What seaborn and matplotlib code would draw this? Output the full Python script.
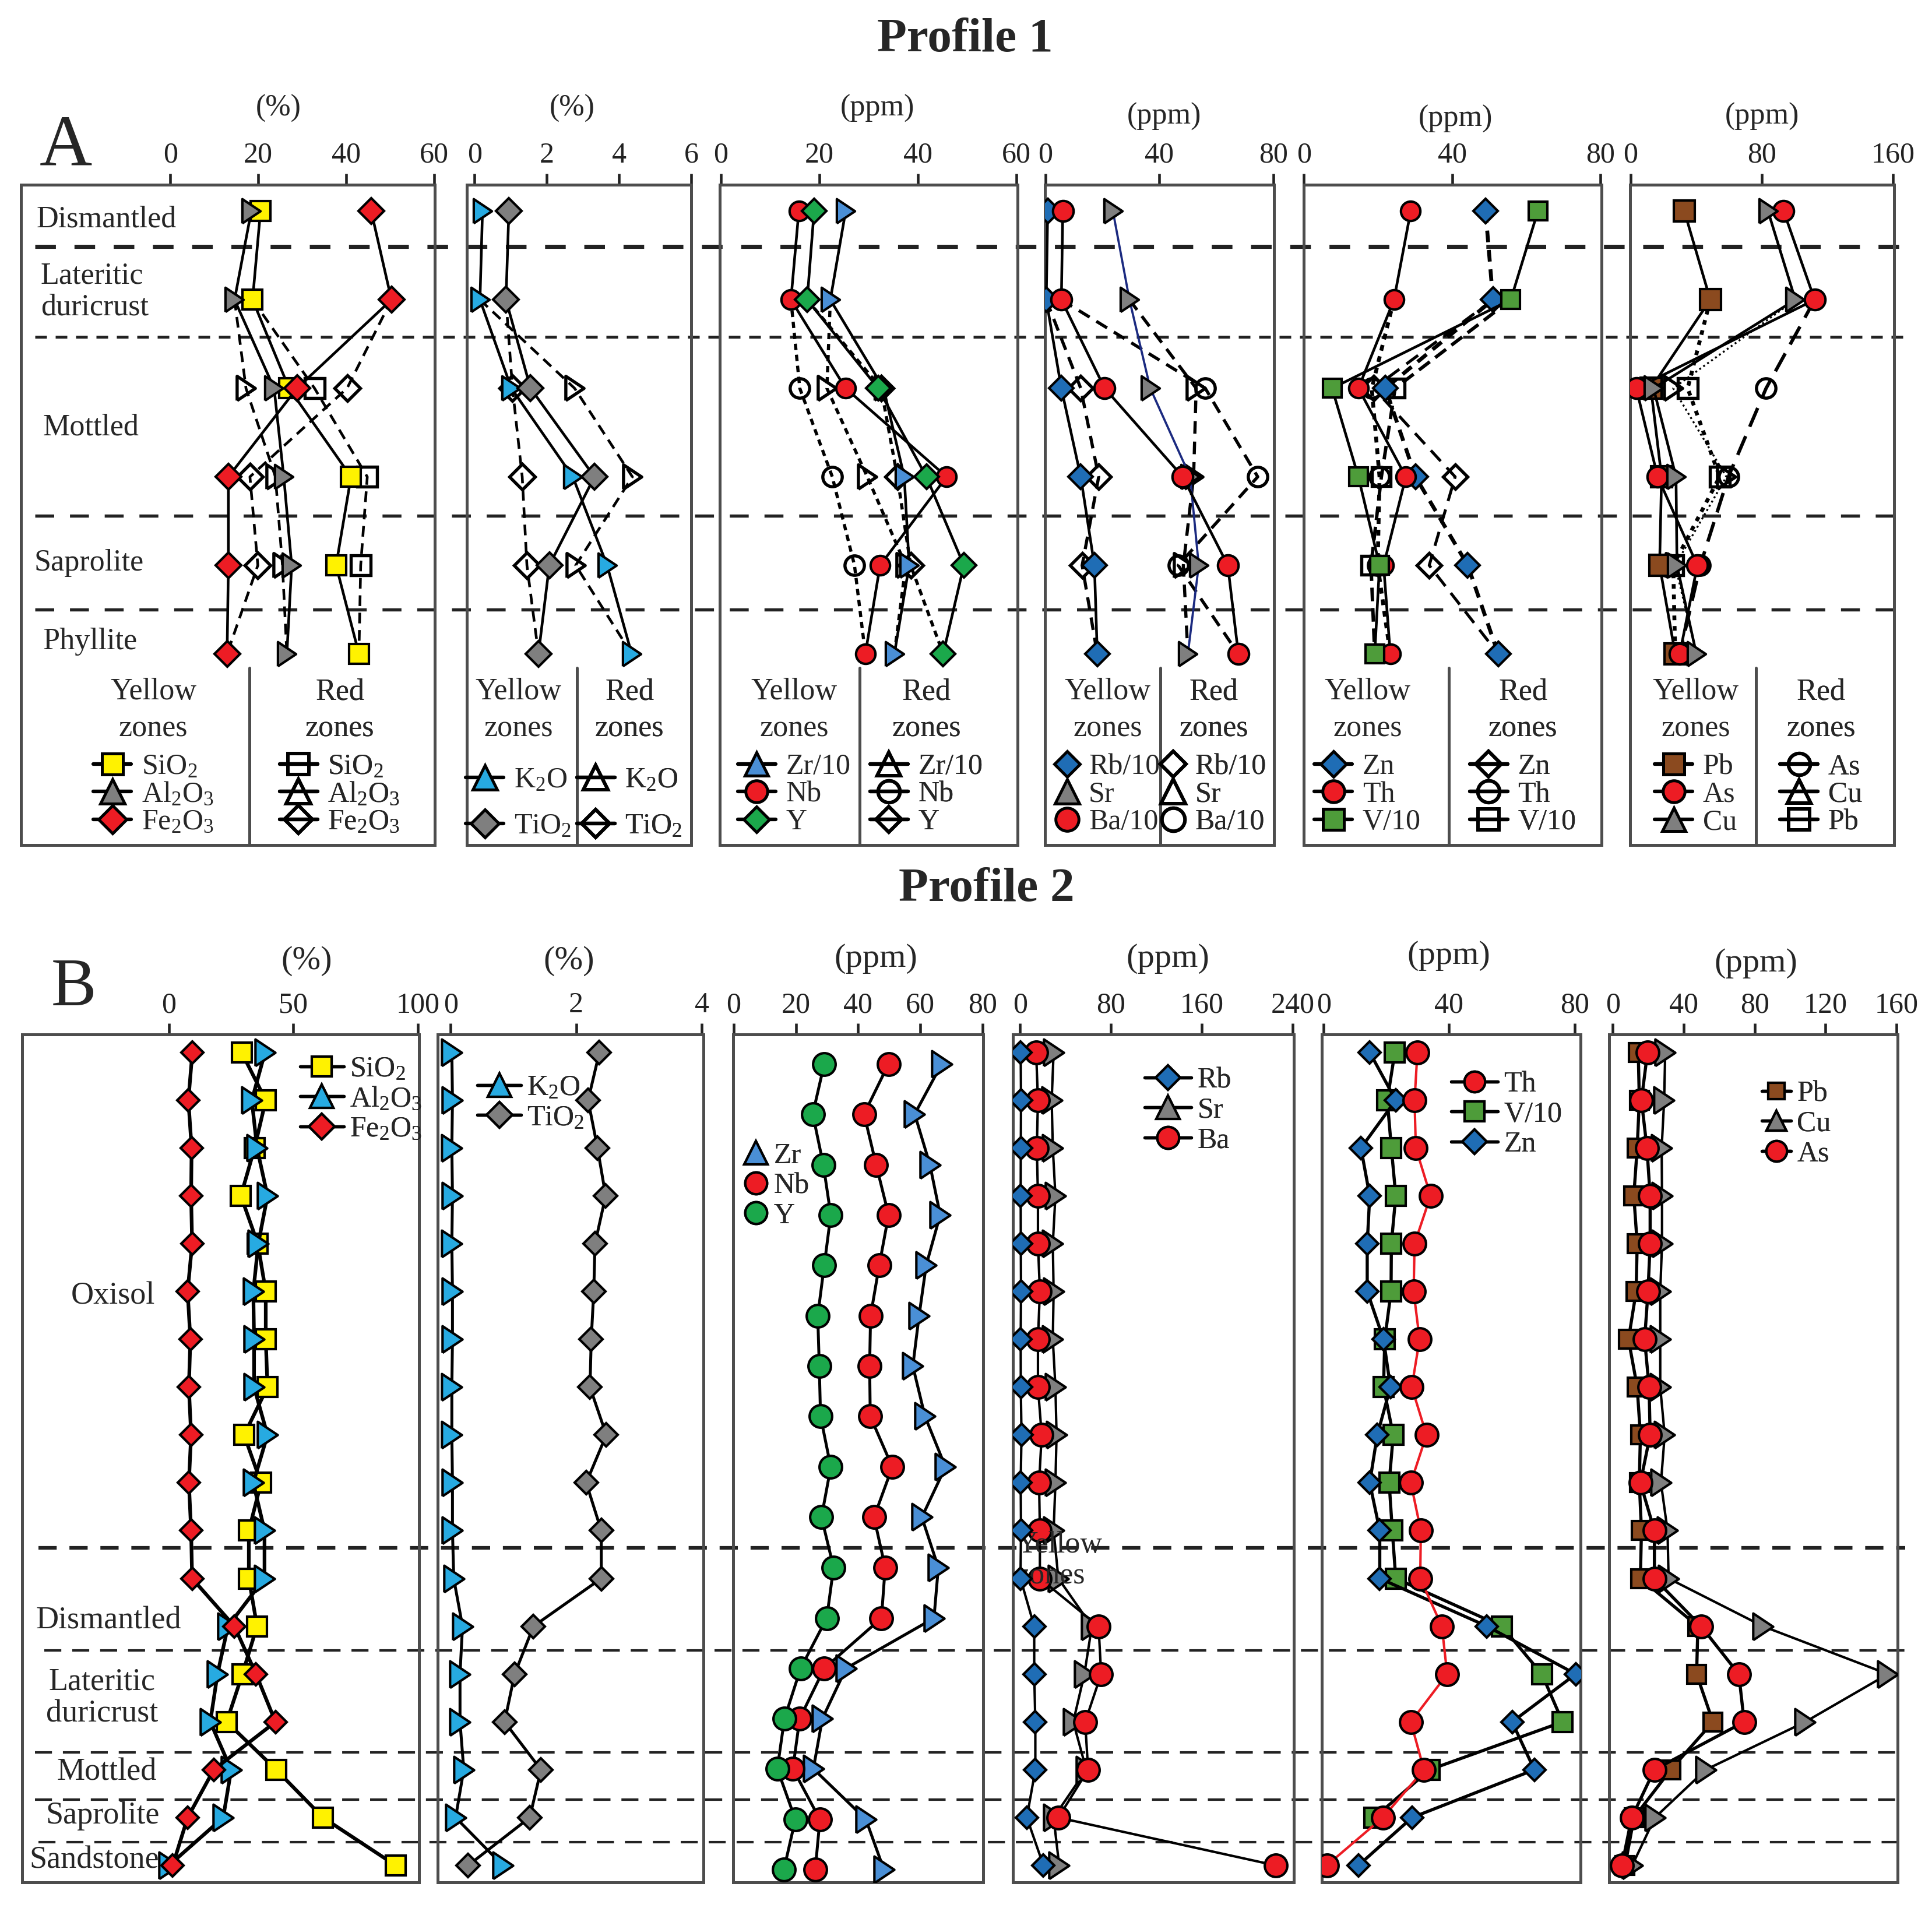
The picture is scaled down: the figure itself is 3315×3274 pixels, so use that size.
import numpy as np
import pandas as pd
import matplotlib
matplotlib.use("Agg")
import matplotlib.pyplot as plt
from matplotlib.lines import Line2D
import seaborn as sns

sns.set_theme(style="white")
plt.rcParams["font.family"] = ["Liberation Serif", "DejaVu Serif"]
plt.rcParams["mathtext.fontset"] = "custom"
plt.rcParams["mathtext.rm"] = "Liberation Serif"
plt.rcParams["mathtext.it"] = "Liberation Serif:italic"
plt.rcParams["mathtext.bf"] = "Liberation Serif:bold"

# ------------------------------------------------------------------ DATA
# Profile 1 : rows = Dismantled, Lateritic duricrust, Mottled (upper), Mottled (lower), Saprolite, Phyllite
p1_zones = ["Dismantled", "Lateritic\nduricrust", "Mottled", "Saprolite", "Phyllite"]
p1_rows = [0, 1, 2, 3, 4, 5]
p1_red_rows = [2, 3, 4]
# yellow zones (all rows) / red zones (rows 2-4)
p1_y_sio2 = [20.5, 18.7, 27.0, 41.1, 37.7, 42.9]
p1_y_al2o3 = [18.4, 14.6, 23.6, 25.8, 27.6, 26.5]
p1_y_fe2o3 = [45.7, 50.3, 28.8, 13.2, 13.2, 12.9]
p1_r_sio2 = [32.8, 44.8, 43.3]
p1_r_al2o3 = [17.2, 23.9, 25.5]
p1_r_fe2o3 = [40.2, 18.1, 19.9]

p1_y_k2o = [0.22, 0.15, 1.02, 2.72, 3.67, 4.35]
p1_y_tio2 = [0.95, 0.87, 1.55, 3.32, 2.07, 1.77]
p1_r_k2o = [2.77, 4.37, 2.80]
p1_r_tio2 = [1.05, 1.32, 1.45]

p1_y_zr = [25.3, 22.2, 33.0, 37.2, 38.2, 35.2]
p1_y_nb = [15.8, 14.2, 25.3, 45.8, 32.3, 29.3]
p1_y_y = [18.9, 17.5, 31.9, 41.7, 49.3, 45.1]
p1_r_zr = [21.5, 29.7, 37.5]
p1_r_nb = [16.0, 22.6, 27.1]
p1_r_y = [32.5, 35.8, 38.5]

p1_y_rb = [0.8, 0.3, 5.6, 12.4, 17.2, 18.2]
p1_y_sr = [23.7, 29.5, 36.8, 50.8, 53.8, 50.0]
p1_y_ba = [6.1, 5.6, 20.8, 48.2, 64.0, 67.7]
p1_r_rb = [12.4, 18.7, 12.9]
p1_r_sr = [52.9, 52.0, 48.4]
p1_r_ba = [56.1, 74.5, 46.6]

p1_y_zn = [49.0, 51.0, 22.0, 30.1, 44.2, 52.4]
p1_y_th = [28.8, 24.3, 14.7, 27.5, 21.5, 23.3]
p1_y_v = [63.1, 55.8, 7.6, 14.7, 20.4, 19.1]
p1_r_zn = [18.8, 40.8, 33.8]
p1_r_th = [18.3, 20.4, 19.9]
p1_r_v = [24.6, 20.9, 18.1]

p1_y_pb = [32.8, 48.6, 12.4, 18.9, 17.7, 27.2]
p1_y_as = [93.3, 112.2, 3.5, 16.5, 40.7, 30.0]
p1_y_cu = [83.8, 100.4, 14.0, 27.7, 28.3, 40.1]
p1_r_as = [82.6, 59.6, 42.5]
p1_r_cu = [26.0, 58.4, 27.2]
p1_r_pb = [34.8, 54.3, 26.0]

# Profile 2 : 18 samples (Oxisol 0-10, Dismantled 11-12, Lateritic duricrust 13-14, Mottled 15, Saprolite 16, Sandstone 17)
p2_zones = ["Oxisol", "Dismantled", "Lateritic\nduricrust", "Mottled", "Saprolite", "Sandstone"]
p2_rows = list(range(18))
p2_sio2 = [29.2, 38.9, 34.4, 28.9, 35.7, 38.9, 38.9, 39.6, 30.2, 37.0, 32.1, 32.1, 35.4, 29.5, 23.2, 43.1, 61.9, 91.1]
p2_al2o3 = [38.6, 33.3, 35.4, 39.6, 35.9, 33.9, 34.2, 34.2, 39.6, 33.9, 38.4, 38.4, 23.7, 19.5, 16.6, 25.0, 21.8, 0.0]
p2_fe2o3 = [9.4, 7.8, 9.1, 8.9, 9.3, 7.5, 8.6, 8.0, 8.9, 8.0, 8.9, 9.3, 26.3, 35.0, 42.8, 18.0, 7.5, 1.5]
p2_k2o = [0.02, 0.03, 0.02, 0.03, 0.02, 0.03, 0.03, 0.02, 0.02, 0.03, 0.03, 0.05, 0.19, 0.15, 0.15, 0.21, 0.08, 0.83]
p2_tio2 = [2.37, 2.19, 2.34, 2.47, 2.30, 2.28, 2.24, 2.22, 2.48, 2.16, 2.40, 2.40, 1.32, 1.02, 0.86, 1.44, 1.26, 0.28]
# Zr / Nb / Y : 17 samples at their own depths
p2_rows_zr = [0.24, 1.29, 2.35, 3.40, 4.45, 5.51, 6.56, 7.61, 8.67, 9.72, 10.77, 11.83, 12.88, 13.93, 14.98, 16.04, 17.09]
p2_zr = [66.9, 58.2, 63.1, 66.4, 61.9, 59.6, 57.6, 61.5, 68.1, 60.5, 65.8, 64.4, 36.1, 28.5, 25.6, 42.5, 48.3]
p2_nb = [49.8, 41.9, 45.8, 49.8, 46.8, 44.0, 43.7, 43.9, 51.0, 45.1, 48.7, 47.5, 29.1, 21.2, 19.0, 27.7, 26.2]
p2_y = [29.1, 25.4, 28.8, 31.2, 29.1, 27.0, 27.5, 27.9, 31.2, 28.2, 32.1, 29.9, 21.5, 16.3, 14.0, 19.8, 16.1]
p2_rb = [0.5, 0.8, 0.6, 0.5, 0.6, 0.8, 0.5, 0.6, 1.2, 0.5, 0.8, 0.3, 12.4, 12.4, 13.4, 13.4, 5.9, 20.5]
p2_sr = [29.5, 27.8, 28.8, 31.1, 28.8, 29.5, 28.8, 31.1, 32.1, 31.1, 29.5, 33.7, 63.2, 56.6, 46.8, 58.3, 29.5, 34.4]
p2_ba = [14.1, 15.7, 14.7, 15.7, 15.7, 17.4, 15.7, 15.7, 19.0, 16.7, 17.4, 17.4, 69.1, 71.4, 57.3, 59.9, 33.7, 225.0]
p2_th = [29.9, 29.0, 29.4, 34.1, 29.0, 28.7, 30.6, 28.1, 32.8, 27.8, 31.0, 30.8, 37.7, 39.4, 27.8, 32.0, 18.9, 1.0]
p2_v = [22.7, 20.3, 21.6, 23.0, 21.6, 21.5, 19.5, 19.1, 22.2, 20.9, 21.9, 23.0, 56.8, 69.6, 76.2, 33.8, 16.2, np.nan]
p2_zn = [14.7, 23.0, 11.9, 14.7, 13.9, 13.9, 19.1, 21.3, 17.1, 14.7, 17.9, 17.9, 52.1, 80.4, 60.1, 67.2, 28.2, 11.1]
p2_pb = [14.4, 15.0, 13.8, 11.9, 13.8, 13.2, 8.9, 13.8, 15.6, 15.0, 16.2, 15.6, 48.0, 47.3, 56.5, 32.7, 12.0, 7.0]
p2_as = [19.6, 16.2, 19.3, 21.1, 21.1, 19.9, 18.0, 20.5, 21.1, 15.6, 23.5, 23.5, 49.8, 71.1, 74.1, 23.5, 10.7, 5.2]
p2_cu = [29.6, 29.0, 27.6, 27.8, 27.8, 26.8, 26.8, 26.8, 29.3, 27.2, 30.9, 31.5, 84.7, 155.1, 108.5, 52.4, 23.8, 11.0]

# ------------------------------------------------------------------ STYLE
YEL, GRY, RED = "#FFF200", "#7F7F7F", "#ED1C24"
LBLUE, ZRBLUE, DBLUE = "#27AAE1", "#4A8FD6", "#1F6DB5"
GRN_Y, GRN_V, BRN = "#1BA84B", "#4E9C3A", "#8B4A1F"
NAVY = "#1B2A80"
FRAME = "#4d4d4d"
TRI = [(-0.75, -1.0), (0.75, 0.0), (-0.75, 1.0), (-0.75, -1.0)]
TICK_FS = 12

W_PX, H_PX, DPI = 3315, 3274, 300
fig = plt.figure(figsize=(W_PX / DPI, H_PX / DPI), dpi=DPI)
fig.patch.set_facecolor("white")


def draw(ax, x, y, face, marker, ms, ls="-", lw=1.1, lc="black", mew=1.0, z=3, markevery=None):
    df = pd.DataFrame({"x": x, "y": y}).dropna()
    kw = dict(marker=marker, markersize=ms, markerfacecolor=face, markeredgecolor="black",
              markeredgewidth=mew, linestyle=ls, linewidth=lw, color=lc, zorder=z)
    if markevery is not None:
        kw["markevery"] = markevery
    sns.lineplot(data=df, x="x", y="y", orient="y", sort=True, estimator=None, ax=ax, **kw)


def setup(ax, xlim, ticks, ylim, fs):
    ax.set_xlim(*xlim)
    ax.set_ylim(*ylim)
    ax.set_xticks(ticks)
    ax.set_xticklabels([str(t) for t in ticks])
    ax.xaxis.tick_top()
    ax.tick_params(axis="x", top=True, bottom=False, labeltop=True, labelbottom=False,
                   direction="out", length=4.5, width=1.1, pad=2.0, labelsize=fs,
                   colors="#222222")
    ax.set_yticks([])
    ax.set_xlabel("")
    ax.set_ylabel("")
    ax.grid(False)
    for s in ax.spines.values():
        s.set_visible(True)
        s.set_color(FRAME)
        s.set_linewidth(1.2)
    ax.set_facecolor("none")


# ------------------------------------------------------------------ PROFILE 1
P1_B, P1_H = 0.5571, 0.3461
P1_AX = [(0.01084, 0.2143), (0.2417, 0.1161), (0.3724, 0.1543),
         (0.5408, 0.1186), (0.6747, 0.1543), (0.8438, 0.1365)]
P1_XLIM = [(-34, 60.2), (-0.21, 6.0), (-0.3, 60.2), (-0.2, 80.2), (-0.1, 80.3), (-0.2, 160.5)]
P1_TICKS = [[0, 20, 40, 60], [0, 2, 4, 6], [0, 20, 40, 60], [0, 40, 80], [0, 40, 80], [0, 80, 160]]
P1_YLIM = (7.16, -0.30)
P1_UNITS = ["(%)", "(%)", "(ppm)", "(ppm)", "(ppm)", "(ppm)"]
P1_UNIT_POS = [(0.622, 1.116), (0.47, 1.116), (0.53, 1.116), (0.52, 1.103), (0.51, 1.10), (0.50, 1.103)]
P1_SEP = [0.552, 0.49, 0.47, 0.505, 0.488, 0.477]
P1_LEG_X = [(0.32, 0.77), (0.23, 0.725), (0.25, 0.694), (0.274, 0.737), (0.215, 0.736), (0.248, 0.724)]

bg1 = fig.add_axes([0, P1_B, 1, P1_H], zorder=0)
bg1.set_xlim(0, 1)
bg1.set_ylim(*P1_YLIM)
bg1.axis("off")
bg1.axhline(0.40, 0.018, 0.985, color="#222222", lw=1.7, ls=(0, (5, 4.5)))
bg1.axhline(1.42, 0.018, 0.985, color="#222222", lw=1.2, ls=(0, (4, 3)))
bg1.axhline(3.44, 0.018, 0.985, color="#222222", lw=1.3, ls=(0, (6, 5)))
bg1.axhline(4.50, 0.018, 0.985, color="#222222", lw=1.3, ls=(0, (6, 5)))

p1_axes = []
for i in range(6):
    l, w = P1_AX[i]
    ax = fig.add_axes([l, P1_B, w, P1_H], zorder=1)
    p1_axes.append(ax)

DASH = (0, (4, 2.5))
SDASH = (0, (2, 1.5))


def p1_red(ax, yel, red, marker, ms, ls=DASH, lw=1.1, lc="black"):
    xs = [yel[1]] + list(red) + [yel[5]]
    ys = [p1_rows[1]] + p1_red_rows + [p1_rows[5]]
    draw(ax, xs, ys, "none", marker, ms, ls=ls, lw=lw, lc=lc, markevery=[1, 2, 3], z=2.5, mew=1.3)


def p1_yel(ax, vals, face, marker, ms, ls="-", lw=1.1, lc="black"):
    draw(ax, vals, p1_rows, face, marker, ms, ls=ls, lw=lw, lc=lc, z=3)


# panel 1
ax = p1_axes[0]
p1_red(ax, p1_y_sio2, p1_r_sio2, "s", 8)
p1_red(ax, p1_y_al2o3, p1_r_al2o3, TRI, 10)
p1_red(ax, p1_y_fe2o3, p1_r_fe2o3, "D", 7.3)
p1_yel(ax, p1_y_sio2, YEL, "s", 8)
p1_yel(ax, p1_y_al2o3, GRY, TRI, 10)
p1_yel(ax, p1_y_fe2o3, RED, "D", 7.3)
# panel 2
ax = p1_axes[1]
p1_red(ax, p1_y_k2o, p1_r_k2o, TRI, 10)
p1_red(ax, p1_y_tio2, p1_r_tio2, "D", 7.3)
p1_yel(ax, p1_y_k2o, LBLUE, TRI, 10)
p1_yel(ax, p1_y_tio2, GRY, "D", 7.3)
# panel 3
ax = p1_axes[2]
p1_red(ax, p1_y_zr, p1_r_zr, TRI, 10, ls=SDASH, lw=1.3)
p1_red(ax, p1_y_nb, p1_r_nb, "o", 8, ls=SDASH, lw=1.3)
p1_red(ax, p1_y_y, p1_r_y, "D", 7.0, ls=SDASH, lw=1.3)
p1_yel(ax, p1_y_zr, ZRBLUE, TRI, 10)
p1_yel(ax, p1_y_nb, RED, "o", 8)
p1_yel(ax, p1_y_y, GRN_Y, "D", 7.0)
# panel 4
ax = p1_axes[3]
p1_red(ax, p1_y_rb, p1_r_rb, "D", 7.0, ls=DASH, lw=1.3)
p1_red(ax, p1_y_sr, p1_r_sr, TRI, 10, ls=DASH, lw=1.3)
p1_red(ax, p1_y_ba, p1_r_ba, "o", 8, ls=DASH, lw=1.3)
p1_yel(ax, p1_y_rb, DBLUE, "D", 7.0)
p1_yel(ax, p1_y_sr, GRY, TRI, 10, lw=0.9, lc=NAVY)
p1_yel(ax, p1_y_ba, RED, "o", 8.5)
# panel 5
ax = p1_axes[4]
p1_red(ax, p1_y_zn, p1_r_zn, "D", 7.0, ls=(0, (5, 3)), lw=1.2)
p1_red(ax, p1_y_th, p1_r_th, "o", 8, ls=(0, (1.5, 1.5)), lw=1.6)
p1_red(ax, p1_y_v, p1_r_v, "s", 7.5, ls=(0, (4, 2)), lw=1.4)
p1_yel(ax, p1_y_zn, DBLUE, "D", 7.0, ls=(0, (3, 2)), lw=1.6)
p1_yel(ax, p1_y_th, RED, "o", 8)
p1_yel(ax, p1_y_v, GRN_V, "s", 7.5)
# panel 6
ax = p1_axes[5]
p1_red(ax, p1_y_as, p1_r_as, "o", 8, ls=(0, (6, 3)), lw=1.4)
p1_red(ax, p1_y_cu, p1_r_cu, TRI, 10, ls=(0, (1, 1.5)), lw=0.8)
p1_red(ax, p1_y_pb, p1_r_pb, "s", 8, ls=(0, (1.2, 1.5)), lw=1.6)
p1_yel(ax, p1_y_pb, BRN, "s", 8.5)
p1_yel(ax, p1_y_as, RED, "o", 8.5)
p1_yel(ax, p1_y_cu, GRY, TRI, 10)

for i, ax in enumerate(p1_axes):
    setup(ax, P1_XLIM[i], P1_TICKS[i], P1_YLIM, TICK_FS)
    ux, uy = P1_UNIT_POS[i]
    ax.text(ux, uy, P1_UNITS[i], transform=ax.transAxes, ha="center", va="center", fontsize=12.5)
    ax.plot([P1_SEP[i], P1_SEP[i]], [0, 0.268], transform=ax.transAxes, color=FRAME, lw=1.2,
            clip_on=False)

# zone labels of profile 1
ax = p1_axes[0]
p1_label_pos = [(-30.5, 0.09), (-29.5, 0.91), (-29.0, 2.44), (-31.0, 3.97), (-29.0, 4.86)]
for name, (lx, ly) in zip(p1_zones, p1_label_pos):
    ax.text(lx, ly, name, ha="left", va="center", fontsize=12.5, linespacing=1.15, zorder=1)

# legends of profile 1
p1_leg_items = [
    [("SiO$_\\mathregular{2}$", YEL, "s", 8.5), ("Al$_\\mathregular{2}$O$_\\mathregular{3}$", GRY, "^", 10),
     ("Fe$_\\mathregular{2}$O$_\\mathregular{3}$", RED, "D", 8.3)],
    [("K$_\\mathregular{2}$O", LBLUE, "^", 10), ("TiO$_\\mathregular{2}$", GRY, "D", 8.3)],
    [("Zr/10", ZRBLUE, "^", 9.5), ("Nb", RED, "o", 9), ("Y", GRN_Y, "D", 7.5)],
    [("Rb/10", DBLUE, "D", 7.5), ("Sr", GRY, "^", 10), ("Ba/10", RED, "o", 9.5)],
    [("Zn", DBLUE, "D", 7.5), ("Th", RED, "o", 9), ("V/10", GRN_V, "s", 8.5)],
    [("Pb", BRN, "s", 8.5), ("As", RED, "o", 9), ("Cu", GRY, "^", 9.5)],
]
p1_leg_red_order = [[0, 1, 2], [0, 1], [0, 1, 2], [0, 1, 2], [0, 1, 2], [1, 2, 0]]
p1_leg_lines = [True, True, True, False, True, True]
for i, ax in enumerate(p1_axes):
    items = p1_leg_items[i]
    ls = "-" if p1_leg_lines[i] else "None"
    hl = 1.3 if p1_leg_lines[i] else 0.8
    hy = [Line2D([0], [0], color="black", lw=1.5, ls=ls, marker=m, ms=s, mfc=c, mec="black", mew=1.2)
          for (_, c, m, s) in items]
    ly = [t for (t, _, _, _) in items]
    hr = [Line2D([0], [0], color="black", lw=1.5, ls=ls, marker=items[k][2], ms=items[k][3],
                 mfc="none", mec="black", mew=1.4) for k in p1_leg_red_order[i]]
    lr = [items[k][0] for k in p1_leg_red_order[i]]
    two = len(items) == 2
    spacing = 0.65 if two else 0.02
    lx1, lx2 = P1_LEG_X[i]
    for hh, ll, cx, title in [(hy, ly, lx1, "Yellow\nzones"), (hr, lr, lx2, "Red\nzones")]:
        leg = ax.legend(hh, ll, title=title, loc="upper center", bbox_to_anchor=(cx, 0.253),
                        frameon=False, fontsize=12, title_fontsize=12.5, handlelength=hl,
                        handletextpad=0.35, labelspacing=spacing, borderpad=0.0, borderaxespad=0,
                        alignment="center")
        leg.get_title().set_multialignment("center")
        leg.get_title().set_linespacing(1.4)
        leg._legend_box.sep = 10 if two else 4.5
        ax.add_artist(leg)

fig.text(0.4994, 0.979, "Profile 1", ha="center", va="center", fontsize=20, fontweight="bold")
fig.text(0.034, 0.9225, "A", ha="center", va="center", fontsize=30)

# ------------------------------------------------------------------ PROFILE 2
P2_B, P2_H = 0.01356, 0.44415
P2_AX = [(0.01148, 0.2054), (0.2264, 0.1378), (0.3795, 0.1295),
         (0.5242, 0.1454), (0.6843, 0.1339), (0.8329, 0.1492)]
P2_XLIM = [(-59, 100.5), (-0.21, 4.03), (-0.2, 80.3), (-6.5, 241), (-0.5, 82), (-2, 160.5)]
P2_TICKS = [[0, 50, 100], [0, 2, 4], [0, 20, 40, 60, 80], [0, 80, 160, 240], [0, 40, 80],
            [0, 40, 80, 120, 160]]
P2_YLIM = (17.35, -0.37)
P2_UNITS = ["(%)", "(%)", "(ppm)", "(ppm)", "(ppm)", "(ppm)"]
P2_UNIT_POS = [(0.717, 1.087), (0.495, 1.087), (0.571, 1.09), (0.553, 1.09), (0.49, 1.093), (0.509, 1.084)]

bg2 = fig.add_axes([0, P2_B, 1, P2_H], zorder=0)
bg2.set_xlim(0, 1)
bg2.set_ylim(*P2_YLIM)
bg2.axis("off")
bg2.axhline(10.36, 0.020, 0.986, color="#222222", lw=1.5, ls=(0, (5, 3.5)))
bg2.axhline(12.51, 0.023, 0.986, color="#222222", lw=1.0, ls=(0, (7, 4.5)))
bg2.axhline(14.64, 0.018, 0.986, color="#222222", lw=1.0, ls=(0, (7, 4.5)))
bg2.axhline(15.62, 0.018, 0.986, color="#222222", lw=1.0, ls=(0, (7, 4.5)))
bg2.axhline(16.51, 0.020, 0.986, color="#222222", lw=1.0, ls=(0, (7, 4.5)))

p2_axes = []
for i in range(6):
    l, w = P2_AX[i]
    p2_axes.append(fig.add_axes([l, P2_B, w, P2_H], zorder=1))

# panel 1
ax = p2_axes[0]
draw(ax, p2_sio2, p2_rows, YEL, "s", 8, lw=1.5)
draw(ax, p2_al2o3, p2_rows, LBLUE, TRI, 11, lw=1.5)
draw(ax, p2_fe2o3, p2_rows, RED, "D", 6.6, lw=1.5)
# panel 2
ax = p2_axes[1]
draw(ax, p2_k2o, p2_rows, LBLUE, TRI, 11, lw=1.2)
draw(ax, p2_tio2, p2_rows, GRY, "D", 6.8, lw=1.2)
# panel 3
ax = p2_axes[2]
draw(ax, p2_zr, p2_rows_zr, ZRBLUE, TRI, 11, lw=1.2)
draw(ax, p2_nb, p2_rows_zr, RED, "o", 9.3, lw=1.2)
draw(ax, p2_y, p2_rows_zr, GRN_Y, "o", 9.3, lw=1.2)
# panel 4
ax = p2_axes[3]
ax.text(-3.5, 10.62, "Yellow\nzones", ha="left", va="center", fontsize=12.5, linespacing=1.15,
        zorder=4, clip_on=True)
draw(ax, p2_sr, p2_rows, GRY, TRI, 11, lw=1.0)
draw(ax, p2_ba, p2_rows, RED, "o", 9.3, lw=1.0)
draw(ax, p2_rb, p2_rows, DBLUE, "D", 6.5, lw=1.0, z=4.5)
# panel 5
ax = p2_axes[4]
draw(ax, p2_v, p2_rows, GRN_V, "s", 8, lw=1.3)
draw(ax, p2_zn, p2_rows, DBLUE, "D", 6.5, lw=1.3)
draw(ax, p2_th, p2_rows, RED, "o", 9.3, lw=1.0, lc=RED)
# panel 6
ax = p2_axes[5]
draw(ax, p2_pb, p2_rows, BRN, "s", 7.5, lw=1.3)
draw(ax, p2_cu, p2_rows, GRY, TRI, 11, lw=1.0)
draw(ax, p2_as, p2_rows, RED, "o", 9.3, lw=1.3)

for i, ax in enumerate(p2_axes):
    setup(ax, P2_XLIM[i], P2_TICKS[i], P2_YLIM, TICK_FS)
    ux, uy = P2_UNIT_POS[i]
    ax.text(ux, uy, P2_UNITS[i], transform=ax.transAxes, ha="center", va="center", fontsize=14)

ax = p2_axes[0]
p2_label_pos = [(-22.5, 5.1), (-24.4, 11.89), (-26.9, 13.5), (-24.9, 15.06), (-26.7, 15.96), (-30.1, 16.9)]
for name, (lx, ly) in zip(p2_zones, p2_label_pos):
    ax.text(lx, ly, name, ha="center", va="center", fontsize=13, linespacing=1.1, zorder=1)

p2_leg_items = [
    [("SiO$_\\mathregular{2}$", YEL, "s", 8), ("Al$_\\mathregular{2}$O$_\\mathregular{3}$", LBLUE, "^", 9.5),
     ("Fe$_\\mathregular{2}$O$_\\mathregular{3}$", RED, "D", 7.5)],
    [("K$_\\mathregular{2}$O", LBLUE, "^", 9.5), ("TiO$_\\mathregular{2}$", GRY, "D", 7.5)],
    [("Zr", ZRBLUE, "^", 9.5), ("Nb", RED, "o", 9), ("Y", GRN_Y, "o", 9)],
    [("Rb", DBLUE, "D", 7.0), ("Sr", GRY, "^", 9.5), ("Ba", RED, "o", 9)],
    [("Th", RED, "o", 8.5), ("V/10", GRN_V, "s", 8), ("Zn", DBLUE, "D", 7.0)],
    [("Pb", BRN, "s", 6.5), ("Cu", GRY, "^", 8), ("As", RED, "o", 8.5)],
]
p2_leg_lines = [True, True, False, True, True, True]
p2_leg_hl = [1.5, 1.5, 0.8, 1.6, 1.6, 1.0]
p2_leg_pos = [(0.70, 0.975), (0.15, 0.953), (0.045, 0.873), (0.47, 0.962), (0.50, 0.957), (0.53, 0.946)]
for i, ax in enumerate(p2_axes):
    items = p2_leg_items[i]
    ls = "-" if p2_leg_lines[i] else "None"
    hh = [Line2D([0], [0], color="black", lw=1.3, ls=ls, marker=m, ms=s, mfc=c, mec="black", mew=1.0)
          for (_, c, m, s) in items]
    ll = [t for (t, _, _, _) in items]
    leg = ax.legend(hh, ll, loc="upper left", bbox_to_anchor=p2_leg_pos[i], frameon=False,
                    fontsize=12, handlelength=p2_leg_hl[i], handletextpad=0.2,
                    labelspacing=0.1, borderpad=0, borderaxespad=0)
    ax.add_artist(leg)

fig.text(0.5108, 0.5339, "Profile 2", ha="center", va="center", fontsize=20, fontweight="bold")
fig.text(0.0383, 0.4816, "B", ha="center", va="center", fontsize=28)

fig.savefig("out.png", dpi=DPI, facecolor="white")
